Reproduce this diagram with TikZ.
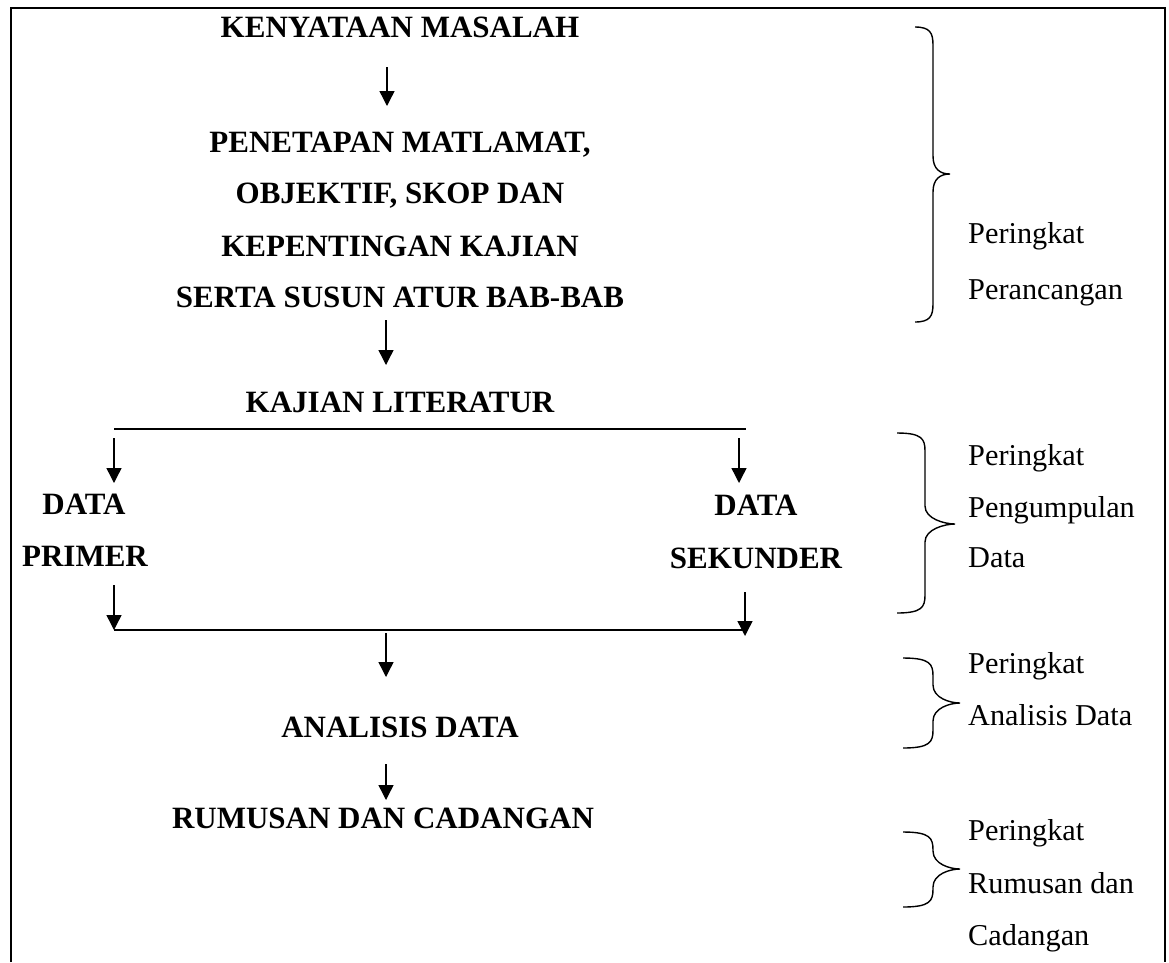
\documentclass[tikz,border=0pt]{standalone}
\usepackage{fontspec}
\setmainfont{Liberation Serif}
\usetikzlibrary{arrows.meta,calc}
\newcommand{\mybrace}[6]{%
  \draw[brc] (#1,#4) .. controls (#2-3,#4) and (#2,#4+6) .. (#2,#4+18)
    -- (#2,#5-18) .. controls (#2,#5-5) and (#3-10,#5) .. (#3,#5)
    .. controls (#3-10,#5) and (#2,#5+5) .. (#2,#5+18)
    -- (#2,#6-18) .. controls (#2,#6-6) and (#2-3,#6) .. (#1,#6);}
\begin{document}
\begin{tikzpicture}[x=1pt,y=-1pt,
  main/.style={font=\fontsize{31}{36}\selectfont\bfseries, inner sep=0pt, anchor=base},
  lab/.style={font=\fontsize{30.3}{36}\selectfont, inner sep=0pt, anchor=base west},
  arr/.style={line width=1.4pt,-{Triangle[width=15pt,length=15pt]}},
  ln/.style={line width=1.4pt},
  frame/.style={line width=2.2pt},
  brc/.style={line width=1.4pt}]
\useasboundingbox (0,0) rectangle (1169,962);
\draw[frame] (11,962) -- (11,8) -- (1165,8) -- (1165,962);

\node[main] (km) at (400,37) {KENYATAAN MASALAH};
\node[main] (p1) at (400,152) {PENETAPAN MATLAMAT,};
\node[main] (p2) at (400,203) {OBJEKTIF, SKOP DAN};
\node[main] (p3) at (400,256) {KEPENTINGAN KAJIAN};
\node[main] (p4) at (400,307) {SERTA SUSUN ATUR BAB-BAB};
\node[main] (kl) at (400,412) {KAJIAN LITERATUR};
\node[main] (dp1) at (84,514) {DATA};
\node[main] (dp2) at (85,566) {PRIMER};
\node[main] (ds1) at (756,515) {DATA};
\node[main] (ds2) at (756,568) {SEKUNDER};
\node[main] (ad) at (400,737) {ANALISIS DATA};
\node[main] (rc) at (383,828) {RUMUSAN DAN CADANGAN};

\node[lab] (l1a) at (968,243) {Peringkat};
\node[lab] (l1b) at (968,299) {Perancangan};
\node[lab] (l2a) at (968,465) {Peringkat};
\node[lab] (l2b) at (968,517) {Pengumpulan};
\node[lab] (l2c) at (968,567) {Data};
\node[lab] (l3a) at (968,673) {Peringkat};
\node[lab] (l3b) at (968,725) {Analisis Data};
\node[lab] (l4a) at (968,840) {Peringkat};
\node[lab] (l4b) at (968,893) {Rumusan dan};
\node[lab] (l4c) at (968,945) {Cadangan};

\draw[arr] ($(km.base)+(-13,30)$) -- ($(p1.base)+(-13,-46)$);
\draw[arr] ($(p4.base)+(-14,13)$) -- ($(kl.base)+(-14,-47)$);
\draw[ln] ($(kl.base)+(-286,17)$) -- ($(kl.base)+(346,17)$);
\draw[arr] ($(dp1.base)+(30,-76)$) -- ($(dp1.base)+(30,-31)$);
\draw[arr] ($(ds1.base)+(-17,-77)$) -- ($(ds1.base)+(-17,-32)$);
\draw[arr] ($(dp2.base)+(29,19)$) -- ($(dp2.base)+(29,64)$);
\draw[arr] ($(ds2.base)+(-11,24)$) -- ($(ds2.base)+(-11,68)$);
\draw[ln] ($(dp2.base)+(29,64)$) -- ($(ds2.base)+(-10,62)$);
\draw[arr] ($(ad.base)+(-14,-104)$) -- ($(ad.base)+(-14,-60)$);
\draw[arr] ($(ad.base)+(-14,27)$) -- ($(rc.base)+(3,-28)$);

\mybrace{915}{933}{950}{27}{174}{322}
\mybrace{897}{925}{955}{433}{524}{613}
\mybrace{903}{933}{960}{658}{703}{748}
\mybrace{903}{933}{960}{832}{869}{907}
\end{tikzpicture}
\end{document}
